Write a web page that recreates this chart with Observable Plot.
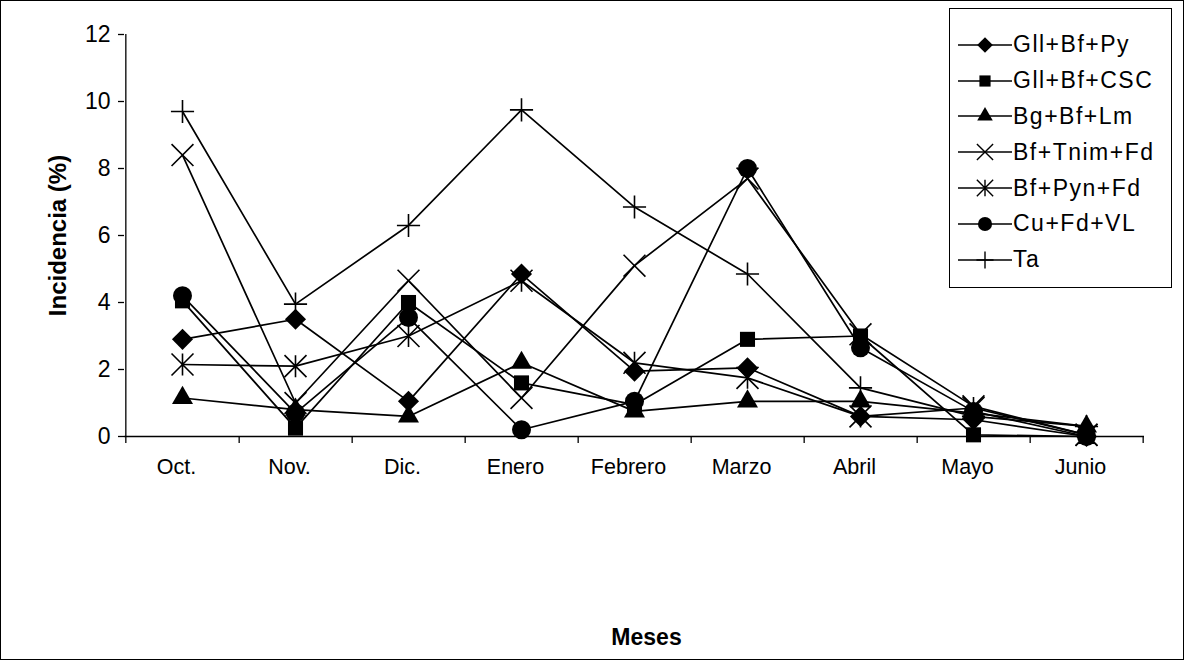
<!DOCTYPE html>
<html>
<head>
<meta charset="utf-8">
<script src="https://cdn.jsdelivr.net/npm/d3@7"></script>
<script src="https://cdn.jsdelivr.net/npm/@observablehq/plot@0.6"></script>
<style>
  html, body { margin: 0; padding: 0; background: #fff; }
  #chart { position: relative; width: 1184px; height: 660px; font-family: "Liberation Sans", Arial, sans-serif; }
  #chart svg.plot { outline: 1.5px solid #000; outline-offset: -1px; }
  #legend {
    position: absolute; left: 949px; top: 8px; width: 223px; height: 280px;
    border: 1.5px solid #000; background: #fff; box-sizing: border-box;
    padding-top: 18px;
  }
  .row { display: flex; align-items: center; height: 35.8px; }
  .row svg { display: block; margin-left: 8px; }
  .row span { font-size: 23px; letter-spacing: 1.5px; color: #000; margin-left: 1px; white-space: nowrap; }
</style>
</head>
<body>
<div id="chart"></div>
<script>
// Months of the sampling season
const months = ["Oct.", "Nov.", "Dic.", "Enero", "Febrero", "Marzo", "Abril", "Mayo", "Junio"];

// Treatment names
const seriesNames = ["Gll+Bf+Py", "Gll+Bf+CSC", "Bg+Bf+Lm", "Bf+Tnim+Fd", "Bf+Pyn+Fd", "Cu+Fd+VL", "Ta"];

// Incidence (%) per month for each treatment
const gllBfPy   = [2.9, 3.5, 1.05, 4.85, 1.95, 2.05, 0.6, 0.5, 0.0];
const gllBfCsc  = [4.05, 0.25, 4.0, 1.6, 0.95, 2.9, 3.0, 0.05, 0.0];
const bgBfLm    = [1.15, 0.8, 0.6, 2.2, 0.75, 1.05, 1.05, 0.7, 0.3];
const bfTnimFd  = [8.4, 1.0, 4.65, 1.15, 5.1, 7.7, 3.05, 0.9, 0.05];
const bfPynFd   = [2.15, 2.1, 3.0, 4.65, 2.2, 1.75, 0.6, 0.85, 0.05];
const cuFdVl    = [4.2, 0.7, 3.55, 0.2, 1.05, 8.0, 2.65, 0.75, 0.0];
const ta        = [9.7, 3.95, 6.3, 9.75, 6.85, 4.85, 1.45, 0.6, 0.3];

// Y axis tick values
const yTicks = [0, 2, 4, 6, 8, 10, 12];

// Asterisk marker: a vertical stroke crossed by an X
const asteriskX = {
  draw(context, size) {
    const r = Math.sqrt(size) * 0.62;
    context.moveTo(0, -r); context.lineTo(0, r);
    context.moveTo(-r, -r); context.lineTo(r, r);
    context.moveTo(-r, r); context.lineTo(r, -r);
  }
};

// Marker style for each treatment
const styles = [
  {symbol: "diamond2", filled: true, r: 9.5},
  {symbol: "square", filled: true, r: 8.5},
  {symbol: "triangle", filled: true, r: 7.8},
  {symbol: "times", filled: false, r: 10},
  {symbol: asteriskX, filled: false, r: 10},
  {symbol: "circle", filled: true, r: 9.5},
  {symbol: "plus", filled: false, r: 7.5}
];

const seriesValues = [gllBfPy, gllBfCsc, bgBfLm, bfTnimFd, bfPynFd, cuFdVl, ta];

// Long-format table for the marks
const rows = seriesNames.flatMap((name, s) =>
  months.map((m, i) => ({series: name, month: m, value: seriesValues[s][i]}))
);

const W = 1184, H = 660;
const mL = 124, mR = 40, mT = 34, mB = 224;
const step = (W - mL - mR) / months.length;

const seriesMarks = seriesNames.flatMap((name, s) => {
  const data = rows.filter(d => d.series === name);
  const st = styles[s];
  return [
    Plot.line(data, {x: "month", y: "value", stroke: "#000", strokeWidth: 1.7}),
    Plot.dot(data, {
      x: "month", y: "value", symbol: () => st.symbol, r: st.r,
      fill: st.filled ? "#000" : "none",
      stroke: st.filled ? "none" : "#000",
      strokeWidth: st.filled ? 0 : 1.6
    })
  ];
});

const chart = Plot.plot({
  width: W, height: H,
  marginLeft: mL, marginRight: mR, marginTop: mT, marginBottom: mB,
  style: {fontFamily: "'Liberation Sans', Arial, sans-serif", background: "#fff", color: "#000", overflow: "visible"},
  x: {type: "point", domain: months, padding: 0.5},
  y: {domain: [0, 12]},
  symbol: {type: "identity"},
  marks: [
    // y axis
    Plot.axisY(yTicks, {tickSize: 6, tickPadding: 8, fontSize: 23, label: null, strokeWidth: 1.3}),
    Plot.ruleX([months[0]], {dx: -step / 2, y1: 0, y2: 12, stroke: "#000", strokeWidth: 1.3}),
    // x axis line and category boundary ticks
    Plot.ruleY([0], {stroke: "#000", strokeWidth: 1.3}),
    Plot.axisX(months, {dx: step / 2, tickSize: 7, tickFormat: () => "", strokeWidth: 1.3, label: null}),
    Plot.axisX([months[0]], {dx: -step / 2, tickSize: 7, tickFormat: () => "", strokeWidth: 1.3, label: null}),
    Plot.axisX(months, {tickSize: 0, tickPadding: 22, fontSize: 21.5, dx: -6, label: null}),
    // axis titles
    Plot.text(["Meses"], {frameAnchor: "bottom", dx: 12, dy: 208, fontSize: 23, fontWeight: "bold", letterSpacing: "1.5px"}),
    Plot.text(["Incidencia (%)"], {frameAnchor: "left", textAnchor: "middle", rotate: -90, dx: -66, fontSize: 24, fontWeight: "bold", letterSpacing: "1.5px"}),
    ...seriesMarks
  ]
});
chart.classList.add("plot");
const root = document.getElementById("chart");
root.appendChild(chart);

// Legend
const symbolTypes = {
  diamond2: d3.symbolDiamond2, square: d3.symbolSquare, triangle: d3.symbolTriangle,
  times: d3.symbolTimes, circle: d3.symbolCircle, plus: d3.symbolPlus
};
const legend = document.createElement("div");
legend.id = "legend";
seriesNames.forEach((name, s) => {
  const st = styles[s];
  const row = document.createElement("div");
  row.className = "row";
  const symObj = typeof st.symbol === "string" ? symbolTypes[st.symbol] : st.symbol;
  const path = d3.symbol(symObj, Math.PI * st.r * st.r * 0.55)();
  const svg = d3.create("svg").attr("width", 54).attr("height", 26);
  svg.append("line").attr("x1", 0).attr("x2", 54).attr("y1", 13).attr("y2", 13)
    .attr("stroke", "#000").attr("stroke-width", 1.5);
  svg.append("path").attr("d", path).attr("transform", "translate(27,13)")
    .attr("fill", st.filled ? "#000" : "none")
    .attr("stroke", st.filled ? "none" : "#000").attr("stroke-width", 1.4);
  row.appendChild(svg.node());
  const label = document.createElement("span");
  label.textContent = name;
  row.appendChild(label);
  legend.appendChild(row);
});
root.appendChild(legend);
</script>
</body>
</html>
